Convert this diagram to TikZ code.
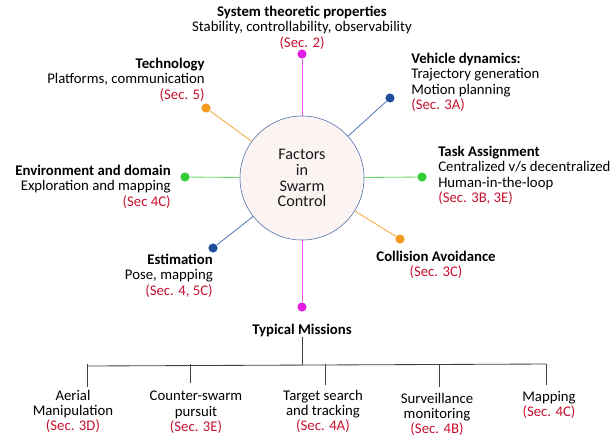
\documentclass[tikz,border=0pt]{standalone}
\usepackage{fontspec}
\setmainfont{Carlito}
\usetikzlibrary{positioning}

\definecolor{secred}{HTML}{C8102E}
\definecolor{dotmag}{HTML}{E31CE3}
\definecolor{dotnavy}{HTML}{1C4E9C}
\definecolor{dotorange}{HTML}{F39A1E}
\definecolor{dotgreen}{HTML}{33CC33}
\definecolor{ringblue}{HTML}{4A6EA8}
\definecolor{ringfill}{HTML}{FCF3F3}

\tikzset{
  factor/.style={font=\fontsize{10.5}{10.8}\selectfont, inner sep=0pt, text=black},
  pin/.style={circle, inner sep=0pt, minimum size=6.5pt},
  spoke/.style={line width=0.6pt},
  tree/.style={line width=0.6pt, black!75},
}
\newcommand{\secref}[1]{\textcolor{secred}{#1}}

\begin{document}
\begin{tikzpicture}[x=0.025cm, y=-0.025cm]
\useasboundingbox (0,0) rectangle (615,436);

% centre
\node[circle, draw=ringblue, fill=ringfill, minimum size=3.1cm,
      align=center, font=\fontsize{11.5}{11.2}\selectfont, text=black!90]
  (fc) at (302,178) {Factors\\in\\Swarm\\Control};

% pins
\node[pin, fill=dotmag]    (pTop)  at (302,54)  {};
\node[pin, fill=dotnavy]   (pVeh)  at (390,98)  {};
\node[pin, fill=dotorange] (pTech) at (206,108) {};
\node[pin, fill=dotgreen]  (pEnv)  at (185,177) {};
\node[pin, fill=dotgreen]  (pTask) at (422,177) {};
\node[pin, fill=dotorange] (pCol)  at (400,239) {};
\node[pin, fill=dotnavy]   (pEst)  at (213,248) {};
\node[pin, fill=dotmag]    (pMis)  at (302,307) {};

\draw[spoke, dotmag!75]    (fc) -- (pTop);
\draw[spoke, dotnavy!75]   (fc) -- (pVeh);
\draw[spoke, dotorange!85] (fc) -- (pTech);
\draw[spoke, dotgreen!75]  (fc) -- (pEnv);
\draw[spoke, dotgreen!75]  (fc) -- (pTask);
\draw[spoke, dotorange!85] (fc) -- (pCol);
\draw[spoke, dotnavy!75]   (fc) -- (pEst);
\draw[spoke, dotmag!75]    (fc) -- (pMis);

% factor labels
\node[factor, align=center, anchor=north] (lTop) at (302,6)
  {\textbf{System theoretic properties}\\Stability, controllability, observability\\\secref{(Sec. 2)}};
\node[factor, align=right, anchor=north east] (lTech) at (205,58)
  {\textbf{Technology}\\Platforms, communication\\\secref{(Sec. 5)}};
\node[factor, align=left, anchor=north west] (lVeh) at (411,53)
  {\textbf{Vehicle dynamics:}\\Trajectory generation\\Motion planning\\\secref{(Sec. 3A)}};
\node[factor, align=right, anchor=north east] (lEnv) at (171,165)
  {\textbf{Environment and domain}\\Exploration and mapping\\\secref{(Sec 4C)}};
\node[factor, align=left, anchor=north west] (lTask) at (438,146)
  {\textbf{Task Assignment}\\Centralized v/s decentralized\\Human-in-the-loop\\\secref{(Sec. 3B, 3E)}};
\node[factor, align=center, anchor=north] (lCol) at (436,251)
  {\textbf{Collision Avoidance}\\\secref{(Sec. 3C)}};
\node[factor, align=right, anchor=north east] (lEst) at (213,254)
  {\textbf{Estimation}\\Pose, mapping\\\secref{(Sec. 4, 5C)}};

% missions
\node[factor, anchor=north] (tm) at (302,324) {\textbf{Typical Missions}};
\coordinate (bus)  at (302,365);
\coordinate (busL) at (87,366);
\coordinate (busR) at (546,364);
\draw[tree] (tm) -- (bus);
\draw[tree] (busL) -- (busR);

\node[factor, align=center, anchor=north] (m1) at (73,390)
  {Aerial\\Manipulation\\\secref{(Sec. 3D)}};
\node[factor, align=center, anchor=north] (m2) at (196,391)
  {Counter-swarm\\pursuit\\\secref{(Sec. 3E)}};
\node[factor, align=center, anchor=north] (m3) at (323,390)
  {Target search\\and tracking\\\secref{(Sec. 4A)}};
\node[factor, align=center, anchor=north] (m4) at (437,393)
  {Surveillance\\monitoring\\\secref{(Sec. 4B)}};
\node[factor, align=center, anchor=north] (m5) at (549,391)
  {Mapping\\\secref{(Sec. 4C)}};

\coordinate (d1) at (87,387);
\coordinate (d2) at (190,383);
\coordinate (d3) at (325,385);
\coordinate (d4) at (439,387);
\coordinate (d5) at (546,385);
\foreach \d in {d1,d2,d3,d4,d5}
  \draw[tree] (\d) -- (\d |- busR);
\end{tikzpicture}
\end{document}
